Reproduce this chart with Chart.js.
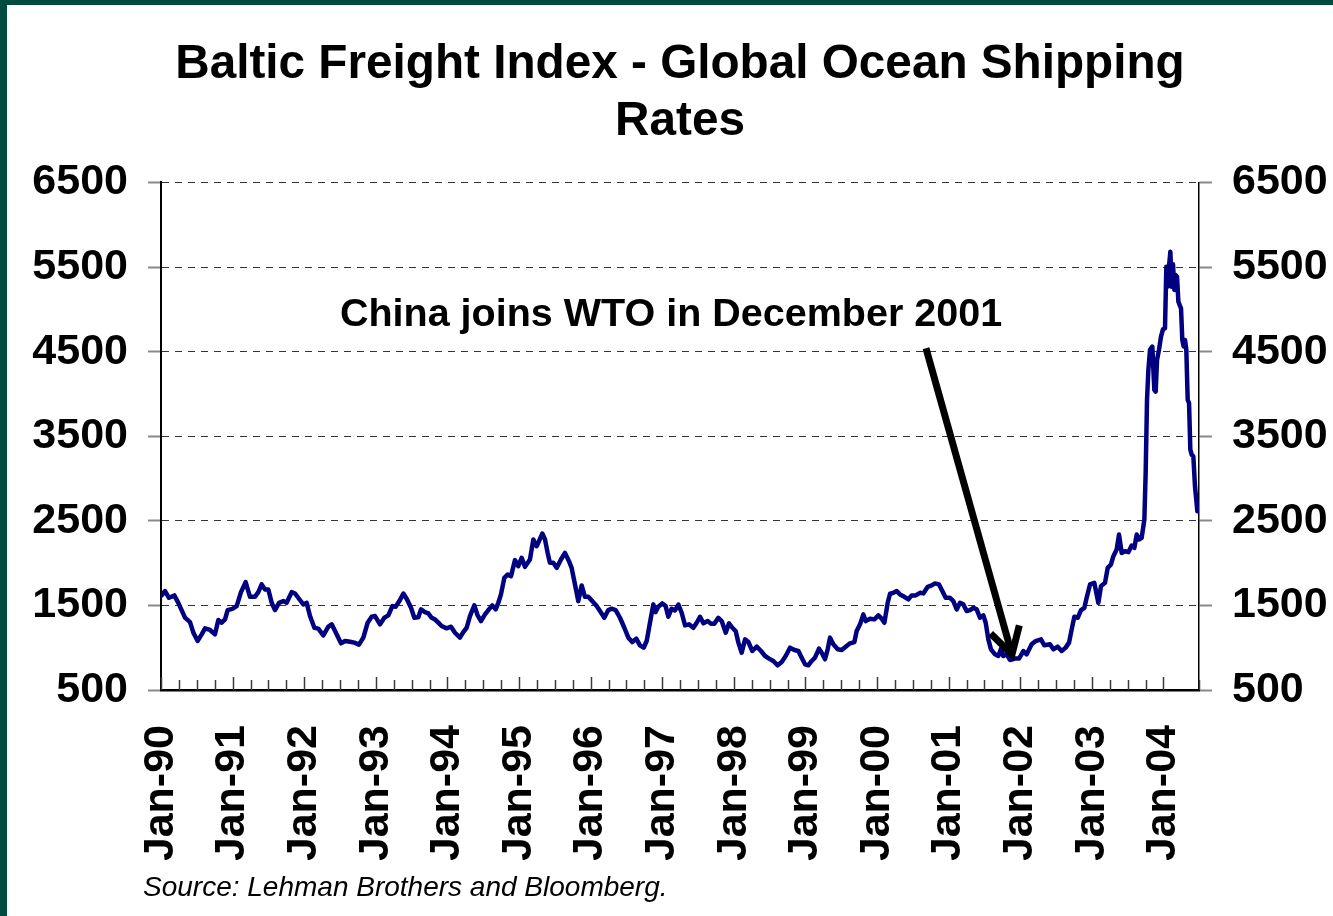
<!DOCTYPE html>
<html>
<head>
<meta charset="utf-8">
<title>Baltic Freight Index</title>
<script src="https://cdn.jsdelivr.net/npm/chart.js@4.4.1/dist/chart.umd.min.js"></script>
<style>
    html, body { margin: 0; padding: 0; background: #fff; }
    #wrap { position: relative; width: 1333px; height: 916px; }
    #frame {
        position: absolute; left: 0; top: 0; width: 1333px; height: 916px;
        box-sizing: border-box; border-left: 7px solid #004d3f; border-top: 5px solid #004d3f;
        pointer-events: none;
    }
</style>
</head>
<body>
<div id="wrap">
    <canvas id="bfiChart"></canvas>
    <div id="frame"></div>
</div>
<script>
// title and notes
const titleLines = ["Baltic Freight Index - Global Ocean Shipping", "Rates"];
const sourceNote = "Source: Lehman Brothers and Bloomberg.";
const wtoNote = "China joins WTO in December 2001";

// axis range (decimal years) and value ticks
const xMin = 1990;
const xMax = 2004.497;
const yTicks = [500, 1500, 2500, 3500, 4500, 5500, 6500];

// note position and arrow ends, as [year, index value]
const wtoNoteAt = [1997.123, 4931];
const arrowFrom = [2000.684, 4541];
const arrowTo = [2001.885, 919];

// index readings (decimal years)
const dates = [
    1990.009, 1990.056, 1990.112, 1990.186, 1990.242, 1990.335, 1990.405, 1990.452, 1990.512, 1990.568,
    1990.615, 1990.684, 1990.754, 1990.801, 1990.847, 1990.894, 1990.931, 1990.996, 1991.057, 1991.117,
    1991.182, 1991.243, 1991.313, 1991.359, 1991.406, 1991.453, 1991.499, 1991.546, 1991.592, 1991.648,
    1991.709, 1991.755, 1991.825, 1991.872, 1991.927, 1991.988, 1992.034, 1992.081, 1992.142, 1992.197,
    1992.267, 1992.337, 1992.384, 1992.453, 1992.514, 1992.570, 1992.640, 1992.700, 1992.765, 1992.826,
    1992.886, 1992.942, 1992.989, 1993.059, 1993.119, 1993.175, 1993.231, 1993.277, 1993.338, 1993.385,
    1993.431, 1993.492, 1993.538, 1993.594, 1993.631, 1993.687, 1993.733, 1993.780, 1993.826, 1993.873,
    1993.919, 1993.989, 1994.050, 1994.106, 1994.175, 1994.222, 1994.269, 1994.315, 1994.376, 1994.422,
    1994.469, 1994.525, 1994.580, 1994.627, 1994.674, 1994.711, 1994.748, 1994.795, 1994.841, 1994.888,
    1994.944, 1994.990, 1995.037, 1995.083, 1995.153, 1995.200, 1995.246, 1995.279, 1995.325, 1995.363,
    1995.400, 1995.432, 1995.479, 1995.526, 1995.586, 1995.642, 1995.698, 1995.735, 1995.782, 1995.828,
    1995.875, 1995.921, 1995.968, 1996.024, 1996.084, 1996.131, 1996.191, 1996.247, 1996.294, 1996.350,
    1996.410, 1996.471, 1996.527, 1996.582, 1996.638, 1996.689, 1996.741, 1996.783, 1996.829, 1996.876,
    1996.908, 1996.946, 1997.001, 1997.048, 1997.085, 1997.132, 1997.178, 1997.226, 1997.272, 1997.319,
    1997.375, 1997.435, 1997.482, 1997.528, 1997.575, 1997.635, 1997.682, 1997.728, 1997.784, 1997.831,
    1997.887, 1997.933, 1997.980, 1998.026, 1998.064, 1998.110, 1998.157, 1998.203, 1998.259, 1998.320,
    1998.380, 1998.436, 1998.492, 1998.552, 1998.613, 1998.669, 1998.725, 1998.785, 1998.846, 1998.902,
    1998.948, 1998.995, 1999.041, 1999.088, 1999.134, 1999.190, 1999.227, 1999.274, 1999.311, 1999.344,
    1999.390, 1999.451, 1999.507, 1999.563, 1999.623, 1999.684, 1999.716, 1999.763, 1999.809, 1999.842,
    1999.903, 1999.963, 2000.019, 2000.065, 2000.103, 2000.149, 2000.182, 2000.228, 2000.275, 2000.321,
    2000.382, 2000.438, 2000.484, 2000.540, 2000.601, 2000.647, 2000.708, 2000.764, 2000.810, 2000.866,
    2000.912, 2000.959, 2001.019, 2001.066, 2001.113, 2001.159, 2001.206, 2001.252, 2001.299, 2001.345,
    2001.392, 2001.438, 2001.485, 2001.518, 2001.555, 2001.592, 2001.648, 2001.695, 2001.732, 2001.764,
    2001.811, 2001.857, 2001.927, 2001.983, 2002.044, 2002.090, 2002.160, 2002.216, 2002.290, 2002.337,
    2002.416, 2002.463, 2002.523, 2002.579, 2002.635, 2002.682, 2002.719, 2002.756, 2002.803, 2002.849,
    2002.896, 2002.928, 2002.975, 2003.035, 2003.091, 2003.128, 2003.184, 2003.222, 2003.268, 2003.301,
    2003.347, 2003.380, 2003.417, 2003.464, 2003.510, 2003.557, 2003.594, 2003.627, 2003.659, 2003.696,
    2003.734, 2003.752, 2003.771, 2003.790, 2003.813, 2003.845, 2003.873, 2003.892, 2003.911, 2003.938,
    2003.966, 2003.994, 2004.022, 2004.041, 2004.060, 2004.078, 2004.097, 2004.115, 2004.134, 2004.153,
    2004.171, 2004.190, 2004.209, 2004.227, 2004.246, 2004.264, 2004.283, 2004.302, 2004.320, 2004.339,
    2004.358, 2004.376, 2004.395, 2004.418, 2004.441, 2004.474
];

const bfi = [
    1618, 1670, 1590, 1618, 1530, 1355, 1303, 1178, 1080, 1158,
    1229, 1210, 1158, 1327, 1296, 1335, 1445, 1460, 1492, 1657,
    1775, 1602, 1602, 1657, 1748, 1689, 1689, 1531, 1445, 1531,
    1551, 1531, 1657, 1641, 1579, 1512, 1531, 1374, 1236, 1225,
    1146, 1249, 1276, 1158, 1052, 1079, 1071, 1060, 1036, 1119,
    1296, 1366, 1374, 1276, 1355, 1382, 1492, 1484, 1563, 1641,
    1579, 1472, 1355, 1360, 1453, 1421, 1406, 1354, 1335, 1296,
    1256, 1229, 1248, 1177, 1119, 1185, 1236, 1374, 1500, 1382,
    1315, 1394, 1453, 1500, 1453, 1531, 1630, 1826, 1866, 1846,
    2035, 1964, 2062, 1956, 2043, 2279, 2200, 2259, 2350, 2279,
    2121, 2003, 2003, 1944, 2043, 2121, 2023, 1944, 1748, 1551,
    1736, 1602, 1602, 1551, 1492, 1433, 1354, 1445, 1461, 1445,
    1354, 1236, 1119, 1067, 1107, 1028, 1000, 1079, 1295, 1512,
    1421, 1484, 1524, 1492, 1366, 1461, 1440, 1510, 1413, 1264,
    1276, 1236, 1295, 1366, 1288, 1315, 1284, 1284, 1354, 1315,
    1177, 1288, 1236, 1197, 1060, 941, 1099, 1067, 961, 1012,
    961, 902, 871, 843, 792, 831, 902, 1000, 973, 961,
    882, 804, 792, 843, 882, 989, 941, 863, 981, 1119,
    1040, 981, 973, 1012, 1052, 1067, 1197, 1276, 1394, 1315,
    1343, 1335, 1382, 1343, 1295, 1531, 1638, 1649, 1669, 1630,
    1602, 1571, 1618, 1618, 1649, 1642, 1720, 1736, 1760, 1748,
    1669, 1590, 1590, 1551, 1453, 1531, 1512, 1433, 1445, 1472,
    1453, 1354, 1382, 1295, 1099, 981, 922, 902, 989, 902,
    922, 855, 871, 871, 961, 922, 1040, 1079, 1099, 1028,
    1040, 981, 1012, 961, 1001, 1060, 1217, 1366, 1354, 1445,
    1472, 1590, 1748, 1767, 1531, 1728, 1767, 1944, 1984, 2082,
    2161, 2338, 2121, 2141, 2129, 2208, 2180, 2338, 2279, 2298,
    2515, 3065, 3931, 4285, 4521, 4560, 4049, 4029, 4403, 4521,
    4678, 4764, 4776, 5504, 5268, 5504, 5681, 5268, 5532, 5229,
    5405, 5386, 5091, 5051, 5012, 4638, 4560, 4638, 4521, 3931,
    3891, 3341, 3282, 3262, 2908, 2613
];

const FONT = "'Liberation Sans', Arial, Helvetica, sans-serif";

// inner quarter ticks on the date axis, the WTO note with its arrow, and the source line
const notesPlugin = {
    id: "notes",
    afterDatasetsDraw(chart) {
        const { ctx, chartArea } = chart;
        const x = chart.scales.x;
        const y = chart.scales.y;
        ctx.save();

        ctx.strokeStyle = "#3a3a3a";
        ctx.lineWidth = 1.5;
        x.ticks.forEach(t => {
            const px = Math.round(x.getPixelForValue(t.value)) + 0.5;
            const len = Number.isInteger(t.value) ? 13 : 10;
            ctx.beginPath();
            ctx.moveTo(px, chartArea.bottom);
            ctx.lineTo(px, chartArea.bottom - len);
            ctx.stroke();
        });

        ctx.fillStyle = "#000";
        ctx.font = "bold 39.5px " + FONT;
        ctx.textAlign = "center";
        ctx.textBaseline = "middle";
        ctx.fillText(wtoNote, x.getPixelForValue(wtoNoteAt[0]), y.getPixelForValue(wtoNoteAt[1]));

        const x0 = x.getPixelForValue(arrowFrom[0]), y0 = y.getPixelForValue(arrowFrom[1]);
        const x1 = x.getPixelForValue(arrowTo[0]), y1 = y.getPixelForValue(arrowTo[1]);
        const ang = Math.atan2(y1 - y0, x1 - x0);
        ctx.strokeStyle = "#000";
        ctx.lineWidth = 7;
        ctx.lineCap = "butt";
        ctx.beginPath();
        ctx.moveTo(x0, y0);
        ctx.lineTo(x1 - 3 * Math.cos(ang), y1 - 3 * Math.sin(ang));
        ctx.stroke();
        const head = 30, spread = 0.52;
        ctx.lineJoin = "miter";
        ctx.beginPath();
        ctx.moveTo(x1 - head * Math.cos(ang - spread), y1 - head * Math.sin(ang - spread));
        ctx.lineTo(x1, y1);
        ctx.lineTo(x1 - head * Math.cos(ang + spread), y1 - head * Math.sin(ang + spread));
        ctx.stroke();

        ctx.font = "italic 28px " + FONT;
        ctx.textAlign = "left";
        ctx.fillText(sourceNote, chartArea.left - 18, chartArea.bottom + 198);
        ctx.restore();
    }
};

function yearLabel(value) {
    return Number.isInteger(value) ? "Jan-" + String(value).slice(2) : "";
}

function plainNumber(value) {
    return String(value);
}

const tickFont = { family: FONT, size: 43, weight: "bold" };

new Chart(document.getElementById("bfiChart"), {
    type: "line",
    data: {
        datasets: [{
            label: "Baltic Freight Index",
            data: dates.map((d, i) => ({ x: d, y: bfi[i] })),
            borderColor: "#000080",
            borderWidth: 4.5,
            borderJoinStyle: "round",
            borderCapStyle: "round",
            pointRadius: 0,
            tension: 0,
            fill: false
        }]
    },
    options: {
        responsive: true,
        maintainAspectRatio: false,
        animation: false,
        events: [],
        layout: { padding: { left: 27, right: 0, top: 0, bottom: 56 } },
        plugins: {
            legend: { display: false },
            tooltip: { enabled: false },
            title: {
                display: true,
                text: titleLines,
                color: "#000",
                font: { family: FONT, size: 47.7, weight: "bold", lineHeight: 1.2 },
                padding: { top: 36, bottom: 32 }
            }
        },
        scales: {
            x: {
                type: "linear",
                min: xMin,
                max: xMax,
                border: { display: true, color: "#000", width: 2.5 },
                grid: { display: false },
                ticks: {
                    stepSize: 0.25,
                    autoSkip: false,
                    minRotation: 90,
                    maxRotation: 90,
                    padding: 27,
                    color: "#000",
                    font: tickFont,
                    callback: yearLabel
                },
                afterFit: s => { s.height = 170; }
            },
            y: {
                position: "left",
                min: 500,
                max: 6500,
                afterBuildTicks: s => { s.ticks = yTicks.map(v => ({ value: v })); },
                border: { display: true, color: "#000", width: 2, dash: [7, 6] },
                grid: {
                    color: "#333",
                    lineWidth: 1,
                    tickLength: 13,
                    tickColor: "#888",
                    tickWidth: 2,
                    tickBorderDash: []
                },
                ticks: { padding: 20, color: "#000", font: tickFont, callback: plainNumber },
                afterFit: s => { s.width = 134; }
            },
            y2: {
                position: "right",
                min: 500,
                max: 6500,
                afterBuildTicks: s => { s.ticks = yTicks.map(v => ({ value: v })); },
                border: { display: true, color: "#000", width: 1.5 },
                grid: {
                    drawOnChartArea: false,
                    tickLength: 13,
                    tickColor: "#888",
                    tickWidth: 2,
                    tickBorderDash: []
                },
                ticks: { padding: 20, color: "#000", font: tickFont, callback: plainNumber },
                afterFit: s => { s.width = 134; }
            }
        }
    },
    plugins: [notesPlugin]
});
</script>
</body>
</html>
